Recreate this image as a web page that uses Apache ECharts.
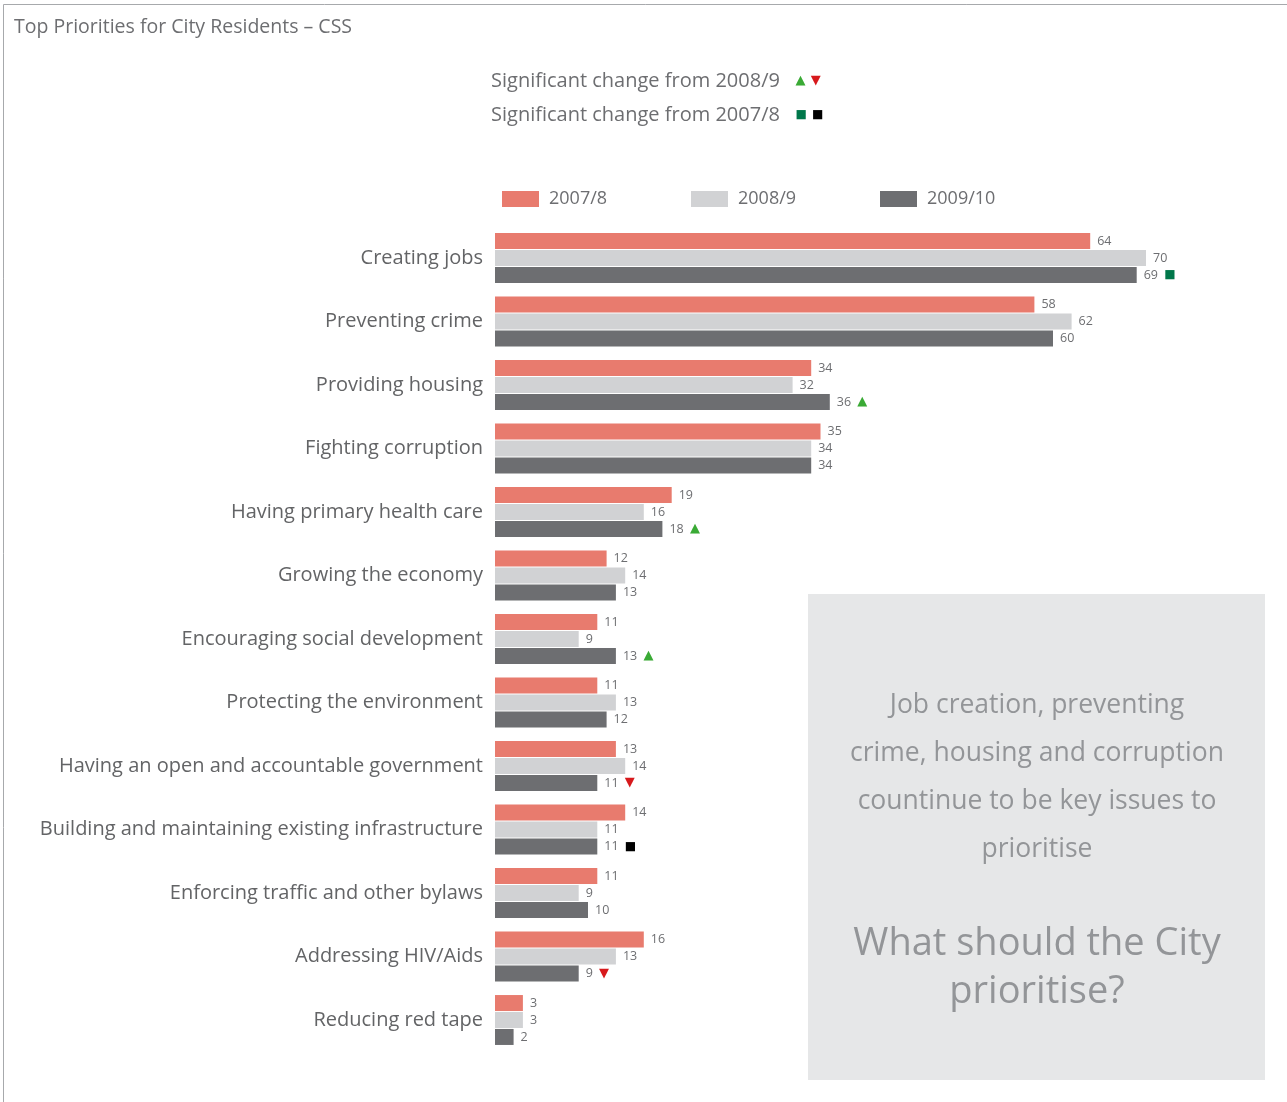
<!DOCTYPE html>
<html><head><meta charset="utf-8">
<script src="https://cdn.jsdelivr.net/npm/echarts@6/dist/echarts.min.js"></script>
<style>html,body{margin:0;padding:0;background:#fff}#c{width:1287px;height:1102px}</style>
</head><body><div id="c"></div>
<script>
const categories = ["Creating jobs","Preventing crime","Providing housing","Fighting corruption","Having primary health care","Growing the economy","Encouraging social development","Protecting the environment","Having an open and accountable government","Building and maintaining existing infrastructure","Enforcing traffic and other bylaws","Addressing HIV/Aids","Reducing red tape"];
const seriesNames = ["2007/8","2008/9","2009/10"];
const values2007 = [64,58,34,35,19,12,11,11,13,14,11,16,3];
const values2008 = [70,62,32,34,16,14,9,13,14,11,9,13,3];
const values2009 = [69,60,36,34,18,13,13,12,11,11,10,9,2];
// significance markers for 2009/10: up/down = vs 2008/9, gsq/bsq = vs 2007/8
const markers2009 = ["gsq","","up","","up","","up","","down","bsq","","down",""];

const colors = ["#E87B6E","#D1D2D4","#6D6E71"];
const txt = "#6D6E71";
const FONT = "Open Sans";

const rich = {
  v:{color:txt,fontSize:12.5,fontFamily:FONT},
  up:{color:"#3AAA35",fontSize:13,fontFamily:"DejaVu Sans"},
  down:{color:"#D7191C",fontSize:13,fontFamily:"DejaVu Sans"},
  gsq:{color:"#00774A",fontSize:12,fontFamily:"DejaVu Sans"},
  bsq:{color:"#000000",fontSize:12,fontFamily:"DejaVu Sans"}
};
const glyph = {up:"▲",down:"▼",gsq:"■",bsq:"■"};

function mkSeries(name, data, color, marks){
  return {
    name:name, type:"bar", data:data, barWidth:16, barGap:"6%",
    itemStyle:{color:color},
    label:{show:true, position:"right", distance:7, rich:rich,
      formatter:function(p){
        const m = marks ? marks[p.dataIndex] : "";
        return "{v|"+p.value+"}" + (m ? "  {"+m+"|"+glyph[m]+"}" : "");
      }}
  };
}

const chart = echarts.init(document.getElementById("c"));
chart.setOption({
  animation:false,
  backgroundColor:"#fff",
  textStyle:{fontFamily:FONT},
  title:{text:"Top Priorities for City Residents – CSS", left:9, top:12,
    textStyle:{fontSize:19.5, fontWeight:"normal", color:txt, fontFamily:FONT}},
  legend:[0,1,2].map(function(i){return {
    data:[seriesNames[i]], left:[497,686,875][i], top:185, itemWidth:37, itemHeight:16, itemGap:0,
    textStyle:{fontSize:18,color:txt,fontFamily:FONT,padding:[0,0,0,5]}, icon:"rect"};}),
  grid:{left:495, right:48, top:226.25, bottom:1102-1051.75, containLabel:false},
  xAxis:{type:"value", min:0, max:80, show:false},
  yAxis:{type:"category", data:categories, inverse:true,
    axisLine:{show:false}, axisTick:{show:false},
    axisLabel:{margin:12, fontSize:20, color:"#636466", fontFamily:FONT}},
  series:[
    mkSeries(seriesNames[0], values2007, colors[0], null),
    mkSeries(seriesNames[1], values2008, colors[1], null),
    mkSeries(seriesNames[2], values2009, colors[2], markers2009)
  ],
  graphic:[
    {type:"line", shape:{x1:3.5,y1:4.5,x2:1287,y2:4.5}, style:{stroke:"#A7A9AC",lineWidth:1}},
    {type:"line", shape:{x1:3.5,y1:4.5,x2:3.5,y2:1102}, style:{stroke:"#A7A9AC",lineWidth:1}},
    {type:"text", left:491, top:71, style:{text:"Significant change from 2008/9   {up|▲} {down|▼}",
      rich:{up:{fill:"#3AAA35",fontSize:13,fontFamily:"DejaVu Sans"},down:{fill:"#D7191C",fontSize:13,fontFamily:"DejaVu Sans"}},
      fontSize:20, fill:txt, fontFamily:FONT}},
    {type:"text", left:491, top:105, style:{text:"Significant change from 2007/8   {g|■} {b|■}",
      rich:{g:{fill:"#00774A",fontSize:12,fontFamily:"DejaVu Sans"},b:{fill:"#000",fontSize:12,fontFamily:"DejaVu Sans"}},
      fontSize:20, fill:txt, fontFamily:FONT}},
    {type:"rect", shape:{x:808,y:594,width:457,height:486}, style:{fill:"#E6E7E8"}, z:-1},
    {type:"text", x:1037, y:777, style:{text:"Job creation, preventing\ncrime, housing and corruption\ncountinue to be key issues to\nprioritise",
      fill:"#939598", fontSize:26.5, lineHeight:48, align:"center", verticalAlign:"middle", fontFamily:FONT}},
    {type:"text", x:1037, y:968, style:{text:"What should the City\nprioritise?",
      fill:"#939598", fontSize:38, lineHeight:48, align:"center", verticalAlign:"middle", fontFamily:FONT}}
  ]
});
</script></body></html>
